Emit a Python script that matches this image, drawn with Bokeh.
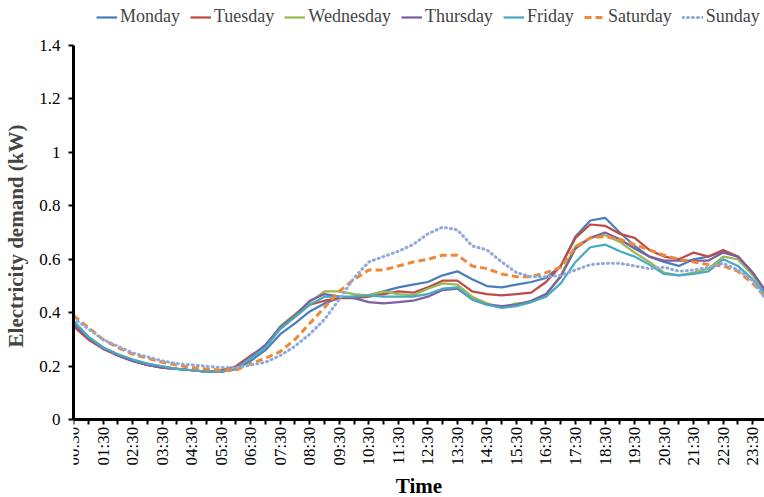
from math import pi
from bokeh.plotting import figure
from bokeh.models import (FixedTicker, Legend, LegendItem, Range1d, CustomJSTickFormatter,
                          ColumnDataSource, Title)
from bokeh.core.properties import value
from bokeh.embed import file_html
from bokeh.resources import INLINE

times = ["00:30", "01:00", "01:30", "02:00", "02:30", "03:00", "03:30", "04:00",
         "04:30", "05:00", "05:30", "06:00", "06:30", "07:00", "07:30", "08:00",
         "08:30", "09:00", "09:30", "10:00", "10:30", "11:00", "11:30", "12:00",
         "12:30", "13:00", "13:30", "14:00", "14:30", "15:00", "15:30", "16:00",
         "16:30", "17:00", "17:30", "18:00", "18:30", "19:00", "19:30", "20:00",
         "20:30", "21:00", "21:30", "22:00", "22:30", "23:00", "23:30", "24:00"]

monday = [0.36, 0.31, 0.27, 0.24, 0.22, 0.205, 0.195, 0.19, 0.185, 0.18, 0.18, 0.19,
          0.22, 0.26, 0.32, 0.36, 0.405, 0.435, 0.455, 0.46, 0.465, 0.48, 0.495, 0.505,
          0.515, 0.54, 0.555, 0.525, 0.50, 0.495, 0.505, 0.515, 0.53, 0.575, 0.685, 0.745,
          0.755, 0.70, 0.65, 0.61, 0.59, 0.575, 0.60, 0.61, 0.63, 0.61, 0.55, 0.47]
tuesday = [0.35, 0.30, 0.265, 0.24, 0.22, 0.205, 0.195, 0.19, 0.185, 0.18, 0.185, 0.20,
           0.24, 0.275, 0.34, 0.385, 0.43, 0.445, 0.455, 0.455, 0.46, 0.47, 0.48, 0.475,
           0.495, 0.52, 0.52, 0.48, 0.47, 0.465, 0.47, 0.475, 0.515, 0.575, 0.68, 0.73,
           0.725, 0.695, 0.68, 0.635, 0.61, 0.60, 0.625, 0.61, 0.635, 0.61, 0.55, 0.47]
wednesday = [0.37, 0.31, 0.27, 0.245, 0.225, 0.21, 0.20, 0.19, 0.185, 0.18, 0.18, 0.19,
             0.235, 0.275, 0.35, 0.395, 0.44, 0.48, 0.48, 0.47, 0.465, 0.48, 0.47, 0.465,
             0.49, 0.51, 0.505, 0.46, 0.435, 0.42, 0.435, 0.44, 0.465, 0.54, 0.65, 0.68,
             0.69, 0.665, 0.625, 0.59, 0.55, 0.54, 0.55, 0.565, 0.61, 0.60, 0.54, 0.47]
thursday = [0.36, 0.305, 0.27, 0.24, 0.22, 0.205, 0.195, 0.19, 0.185, 0.18, 0.18, 0.19,
            0.235, 0.28, 0.345, 0.39, 0.445, 0.47, 0.46, 0.455, 0.44, 0.435, 0.44, 0.445,
            0.46, 0.485, 0.49, 0.45, 0.43, 0.425, 0.43, 0.445, 0.47, 0.535, 0.64, 0.68,
            0.70, 0.675, 0.64, 0.61, 0.595, 0.595, 0.595, 0.595, 0.625, 0.61, 0.55, 0.47]
friday = [0.37, 0.31, 0.27, 0.245, 0.225, 0.21, 0.20, 0.19, 0.185, 0.18, 0.18, 0.19,
          0.23, 0.27, 0.34, 0.385, 0.43, 0.46, 0.46, 0.46, 0.465, 0.46, 0.46, 0.46,
          0.47, 0.49, 0.495, 0.45, 0.43, 0.418, 0.425, 0.44, 0.46, 0.51, 0.59, 0.645,
          0.655, 0.63, 0.61, 0.58, 0.545, 0.54, 0.545, 0.555, 0.60, 0.575, 0.525, 0.46]
saturday = [0.39, 0.345, 0.30, 0.27, 0.245, 0.23, 0.215, 0.205, 0.195, 0.19, 0.185, 0.185,
            0.21, 0.23, 0.255, 0.30, 0.36, 0.42, 0.48, 0.525, 0.56, 0.56, 0.575, 0.59,
            0.60, 0.615, 0.615, 0.575, 0.565, 0.545, 0.535, 0.535, 0.55, 0.57, 0.645, 0.68,
            0.685, 0.675, 0.655, 0.635, 0.615, 0.60, 0.59, 0.58, 0.575, 0.555, 0.51, 0.45]
sunday = [0.38, 0.34, 0.30, 0.275, 0.25, 0.235, 0.22, 0.21, 0.205, 0.20, 0.195, 0.195,
          0.205, 0.215, 0.24, 0.275, 0.32, 0.375, 0.45, 0.53, 0.59, 0.61, 0.63, 0.655,
          0.695, 0.72, 0.71, 0.65, 0.635, 0.59, 0.55, 0.535, 0.535, 0.54, 0.56, 0.58,
          0.585, 0.585, 0.575, 0.565, 0.57, 0.555, 0.56, 0.57, 0.585, 0.56, 0.52, 0.44]

days = ["Monday", "Tuesday", "Wednesday", "Thursday", "Friday", "Saturday", "Sunday"]
series = [monday, tuesday, wednesday, thursday, friday, saturday, sunday]
colors = ["#4A7EBB", "#BE4B48", "#98B954", "#7D60A0", "#46AAC5", "#F0883A", "#8EA9DB"]
dashes = ["solid", "solid", "solid", "solid", "solid", "7 4", "1 4"]
widths = [2.25, 2.25, 2.25, 2.25, 2.25, 3, 3]
y_ticks = [0, 0.2, 0.4, 0.6, 0.8, 1, 1.2, 1.4]

FONT = "Liberation Serif"
x = list(range(len(times)))

# y range extends past the 0..1.4 axis so legend and time labels sit in the frame
p = figure(width=764, height=497, output_backend="svg", toolbar_location=None,
           x_range=Range1d(0, 46.8), y_range=Range1d(-0.1936, 1.5676),
           min_border_left=73, min_border_right=0, min_border_top=0, min_border_bottom=0)
p.outline_line_color = None
p.xgrid.visible = False
p.ygrid.visible = False

items = []
for name, vals, c, d, w in zip(days, series, colors, dashes, widths):
    r = p.line(x, vals, line_color=c, line_width=w, line_dash=d,
               line_cap="round" if name == "Sunday" else "butt", line_join="round")
    items.append(LegendItem(label=name, renderers=[r]))

legend = Legend(items=items, orientation="horizontal", location=(23, 444),
                label_text_font=FONT, label_text_font_size="18px",
                glyph_width=21, glyph_height=18, label_standoff=3, spacing=10,
                padding=0, margin=0, border_line_color=None,
                background_fill_alpha=0, label_height=18)
p.add_layout(legend, "center")

# hour tick labels, drawn vertically below the axis line
lab_src = ColumnDataSource(dict(x=x[::2], y=[0] * len(x[::2]), t=times[::2]))
p.text(x="x", y="y", text="t", source=lab_src, angle=pi / 2, text_align="right",
       text_baseline="middle", y_offset=7, text_font=value(FONT),
       text_font_size="17px", text_color="black")

xa = p.xaxis[0]
xa.fixed_location = 0
xa.ticker = FixedTicker(ticks=x[::2], minor_ticks=x[1::2])
xa.formatter = CustomJSTickFormatter(code="return '';")
xa.axis_line_width = 3
xa.axis_line_color = "black"
xa.major_tick_out = 5
xa.major_tick_in = 0
xa.minor_tick_out = 5
xa.minor_tick_in = 0
xa.major_tick_line_width = 2
xa.minor_tick_line_width = 2
xa.major_label_standoff = 0

p.add_layout(Title(text="Time", align="center", text_font=FONT, text_font_size="21px",
                   text_font_style="bold", text_color="black", standoff=0), "below")

ya = p.yaxis[0]
ya.bounds = (0, 1.4)
ya.ticker = FixedTicker(ticks=y_ticks)
ya.formatter = CustomJSTickFormatter(code="return String(Math.round(tick * 10) / 10);")
ya.axis_line_width = 3
ya.axis_line_color = "black"
ya.major_tick_out = 5
ya.major_tick_in = 0
ya.minor_tick_out = 0
ya.minor_tick_in = 0
ya.major_tick_line_width = 2
ya.major_label_text_font = FONT
ya.major_label_text_font_size = "17px"
ya.major_label_text_color = "black"
ya.major_label_standoff = 8
ya.axis_label = "Electricity demand (kW)"
ya.axis_label_text_font = FONT
ya.axis_label_text_font_style = "bold"
ya.axis_label_text_font_size = "21px"
ya.axis_label_standoff = 8

open("out.html", "w").write(file_html(p, INLINE))
